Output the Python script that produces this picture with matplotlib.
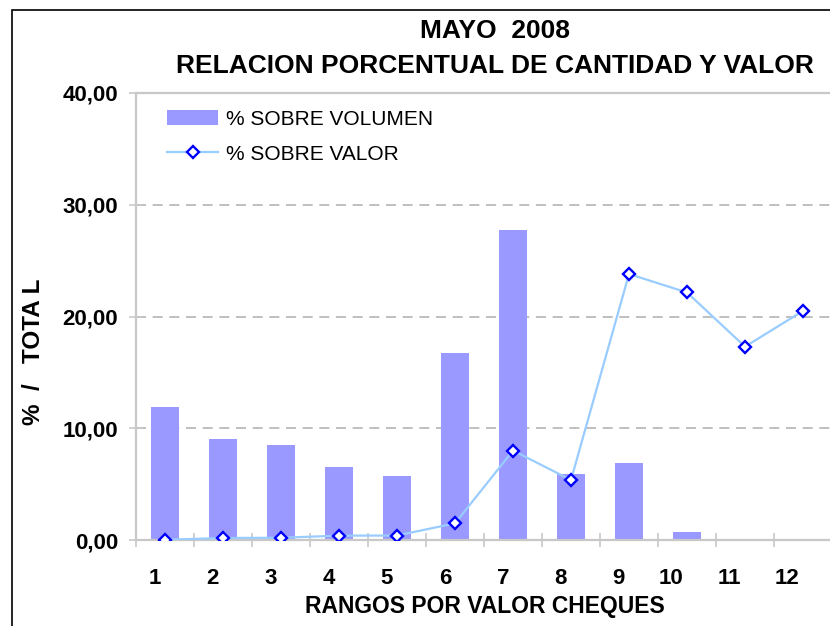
import numpy as np
import matplotlib
matplotlib.use("Agg")
import matplotlib.pyplot as plt
import matplotlib.transforms as mtransforms
from matplotlib.patches import Rectangle

plt.rcParams['font.family'] = ['Liberation Sans', 'DejaVu Sans']

# datos
rangos = ['1', '2', '3', '4', '5', '6', '7', '8', '9', '10', '11', '12']
sobre_volumen = [11.9, 9.0, 8.5, 6.5, 5.7, 16.7, 27.7, 5.9, 6.9, 0.7, 0.0, 0.0]
sobre_valor = [0.02, 0.18, 0.2, 0.39, 0.4, 1.49, 8.0, 5.37, 23.8, 22.15, 17.3, 20.5]
y_ticks = [0, 10, 20, 30, 40]
y_tick_labels = ['0,00', '10,00', '20,00', '30,00', '40,00']

W, H = 830, 626
fig = plt.figure(figsize=(W / 100, H / 100), dpi=100)
fig.patch.set_facecolor('white')

# marco del grafico (se sale por la derecha y abajo)
fig.patches.append(Rectangle((12 / W, -0.05), 1.1, 1 - 10 / H + 0.05,
                             transform=fig.transFigure, fill=False,
                             edgecolor='black', linewidth=1.2, clip_on=False))

ax = fig.add_axes([136 / W, (H - 540) / H, (832 - 136) / W, (540 - 93) / H])
x = np.arange(len(rangos))

barras = ax.bar(x, sobre_volumen, width=0.47, color='#9999FF', label='% SOBRE VOLUMEN', zorder=2)
linea, = ax.plot(x, sobre_valor, color='#99CCFF', lw=1.6, marker='D', markersize=6.5,
                 markerfacecolor='white', markeredgecolor='#0000FF', markeredgewidth=1.7,
                 label='% SOBRE VALOR', zorder=3)

ax.set_xlim(-0.5, len(rangos) - 0.5)
ax.set_ylim(0, 40)

ax.set_yticks(y_ticks)
ax.set_yticklabels(y_tick_labels, fontsize=16, fontweight='bold')
ax.set_xticks(x)
ax.set_xticklabels(rangos, fontsize=16, fontweight='bold')
ax.set_xticks(np.arange(len(rangos) + 1) - 0.5, minor=True)

ax.tick_params(axis='x', which='major', length=0, pad=20)
ax.tick_params(axis='x', which='minor', direction='inout', length=10, width=1.2, color='#C8C8C8')
ax.tick_params(axis='y', direction='inout', length=10, width=1.2, color='#C8C8C8', pad=8)

offset = mtransforms.ScaledTranslation(-0.04, 0, fig.dpi_scale_trans)
for lab in ax.get_xticklabels():
    lab.set_horizontalalignment('right')
    lab.set_transform(lab.get_transform() + offset)

for y in [10, 20, 30]:
    ax.axhline(y, color='#B4B4B4', lw=1.2, dashes=(6, 4), zorder=1)

for s in ['left', 'bottom', 'top', 'right']:
    ax.spines[s].set_color('#C8C8C8')
    ax.spines[s].set_linewidth(1.6)

leg = ax.legend([barras, linea], ['% SOBRE VOLUMEN', '% SOBRE VALOR'],
                loc='upper left', bbox_to_anchor=(167 / W, 1 - 110 / H),
                bbox_transform=fig.transFigure, frameon=False, fontsize=15,
                handlelength=2.45, handleheight=0.7, handletextpad=0.4,
                labelspacing=0.75, borderaxespad=0, borderpad=0)

fig.text(495 / W, 1 - 31 / H, 'MAYO  2008', ha='center', va='center',
         fontsize=19, fontweight='bold')
fig.text(495 / W, 1 - 66 / H, 'RELACION PORCENTUAL DE CANTIDAD Y VALOR',
         ha='center', va='center', fontsize=19, fontweight='bold')
fig.text(485 / W, 1 - 606 / H, 'RANGOS POR VALOR CHEQUES', ha='center',
         va='center', fontsize=16.5, fontweight='bold')
fig.text(33 / W, 1 - 352 / H, '%  /   TOTA L', ha='center', va='center',
         rotation=90, fontsize=17.5, fontweight='bold')

fig.savefig('out.png', dpi=100)
